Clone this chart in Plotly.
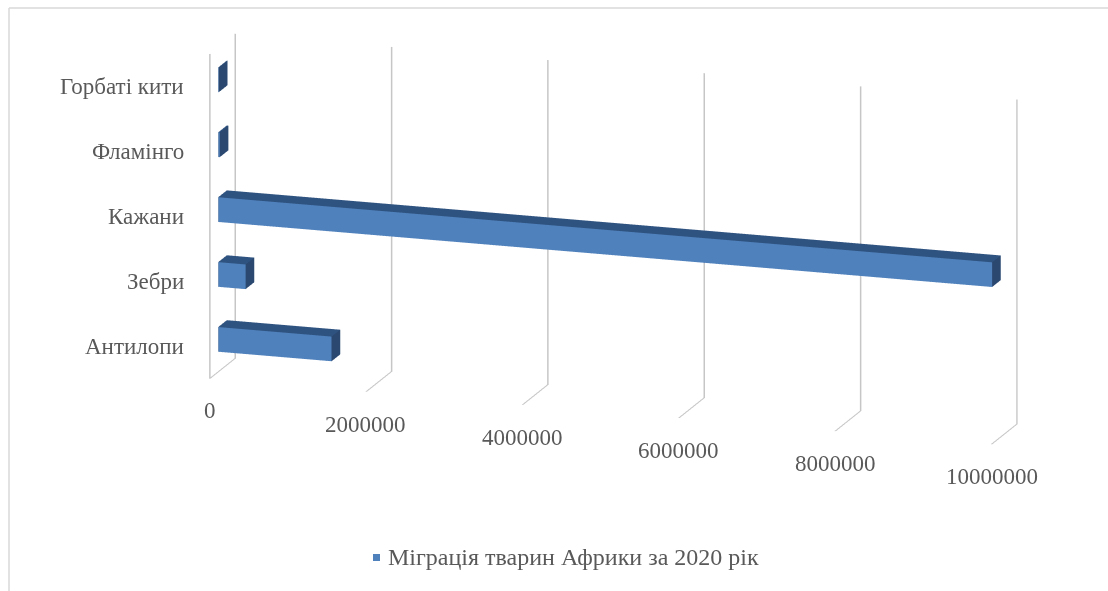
import numpy as np
import plotly.graph_objects as go

# Migration data (bottom to top as drawn on the category axis)
categories = ["Антилопи", "Зебри", "Кажани", "Фламінго", "Горбаті кити"]
values = [1450000, 350000, 9900000, 20000, 8000]
x_ticks = [0, 2000000, 4000000, 6000000, 8000000, 10000000]
series_name = "Міграція тварин Африки за 2020 рік"

FRONT = "#4F81BD"
TOP = "#2F5380"
SIDE = "#2A4870"
GRID = "#C6C6C6"
TEXT = "#595959"
FONT = "Liberation Serif"

bar_half = 0.19      # half bar height in category units
depth0, depth1 = 0.33, 0.67   # bar extent along depth

xs, ys, zs, I, J, K, fc = [], [], [], [], [], [], []
for idx, v in enumerate(values):
    zc = idx + 0.5
    x0, x1 = 0.0, float(v)
    y0, y1 = depth0, depth1
    z0, z1 = zc - bar_half, zc + bar_half
    base = len(xs)
    corners = [(x0, y0, z0), (x1, y0, z0), (x1, y1, z0), (x0, y1, z0),
               (x0, y0, z1), (x1, y0, z1), (x1, y1, z1), (x0, y1, z1)]
    for cx, cy, cz in corners:
        xs.append(cx); ys.append(cy); zs.append(cz)
    faces = [
        ((0, 1, 5), FRONT), ((0, 5, 4), FRONT),   # front
        ((4, 5, 6), TOP), ((4, 6, 7), TOP),       # top
        ((1, 2, 6), SIDE), ((1, 6, 5), SIDE),     # right end
        ((0, 3, 2), SIDE), ((0, 2, 1), SIDE),     # bottom
        ((0, 4, 7), SIDE), ((0, 7, 3), SIDE),     # left end
        ((3, 7, 6), SIDE), ((3, 6, 2), SIDE),     # back
    ]
    for (a, b, c), col in faces:
        I.append(base + a); J.append(base + b); K.append(base + c); fc.append(col)

fig = go.Figure()
fig.add_trace(go.Mesh3d(
    x=xs, y=ys, z=zs, i=I, j=J, k=K,
    facecolor=fc, flatshading=True,
    lighting=dict(ambient=1.0, diffuse=0.0, specular=0.0, roughness=1.0, fresnel=0.0),
    hoverinfo="skip", showlegend=False, name=series_name,
))

# orthographic camera, turned right and tilted down
az = np.radians(18)
el = np.radians(15)
r = 1.9
pan_right = 0.056
pan_up = -0.105
center = dict(x=-pan_right * np.cos(az), y=-pan_right * np.sin(az), z=pan_up)
eye = dict(x=center["x"] + r * np.sin(az) * np.cos(el),
           y=center["y"] - r * np.cos(az) * np.cos(el),
           z=center["z"] + r * np.sin(el))

# axis labels as scene annotations placed at data coordinates
scene_ann = []
for t in x_ticks:
    scene_ann.append(dict(x=t, y=0, z=0, text=str(t), showarrow=False,
                          xanchor="center", yanchor="top", yshift=-18,
                          font=dict(family=FONT, size=23, color=TEXT)))
for idx, c in enumerate(categories):
    scene_ann.append(dict(x=0, y=0, z=idx + 0.5, text=c, showarrow=False,
                          xanchor="right", yanchor="middle", xshift=-24,
                          font=dict(family=FONT, size=23, color=TEXT)))

axis_common = dict(showbackground=False, showspikes=False, zeroline=False, title=dict(text=""),
                   showticklabels=False, ticks="")

fig.update_layout(
    width=1108, height=591,
    margin=dict(l=0, r=0, t=0, b=0),
    paper_bgcolor="white",
    showlegend=False,
    scene=dict(
        domain=dict(x=[0.08, 1.0], y=[0.1, 1.0]),
        aspectmode="manual",
        aspectratio=dict(x=3.09, y=0.309, z=1.263),
        camera=dict(eye=eye, up=dict(x=0, y=0, z=1), center=center,
                    projection=dict(type="orthographic")),
        xaxis=dict(range=[0, 10000000], tickvals=x_ticks,
                   showgrid=True, gridcolor=GRID, gridwidth=3, showline=False, **axis_common),
        yaxis=dict(range=[0, 1], showgrid=False, showline=False, **axis_common),
        zaxis=dict(range=[0, 5], tickvals=[i + 0.5 for i in range(len(categories))],
                   showgrid=False, showline=True, linecolor=GRID, linewidth=3, **axis_common),
        annotations=scene_ann,
    ),
    shapes=[
        dict(type="line", xref="paper", yref="paper", x0=9 / 1108, x1=1.0, y0=1 - 8 / 591, y1=1 - 8 / 591,
             line=dict(color="#D9D9D9", width=1.5)),
        dict(type="line", xref="paper", yref="paper", x0=9 / 1108, x1=9 / 1108, y0=0, y1=1 - 8 / 591,
             line=dict(color="#D9D9D9", width=1.5)),
        dict(type="rect", xref="paper", yref="paper", x0=373 / 1108, x1=380 / 1108,
             y0=1 - 561 / 591, y1=1 - 554 / 591, fillcolor=FRONT, line=dict(width=0)),
    ],
    annotations=[
        dict(text=series_name, xref="paper", yref="paper", x=386 / 1108, y=1 - 557 / 591,
             xanchor="left", yanchor="middle", showarrow=False,
             font=dict(family=FONT, size=24, color=TEXT)),
    ],
)

fig.write_html("out.html")
